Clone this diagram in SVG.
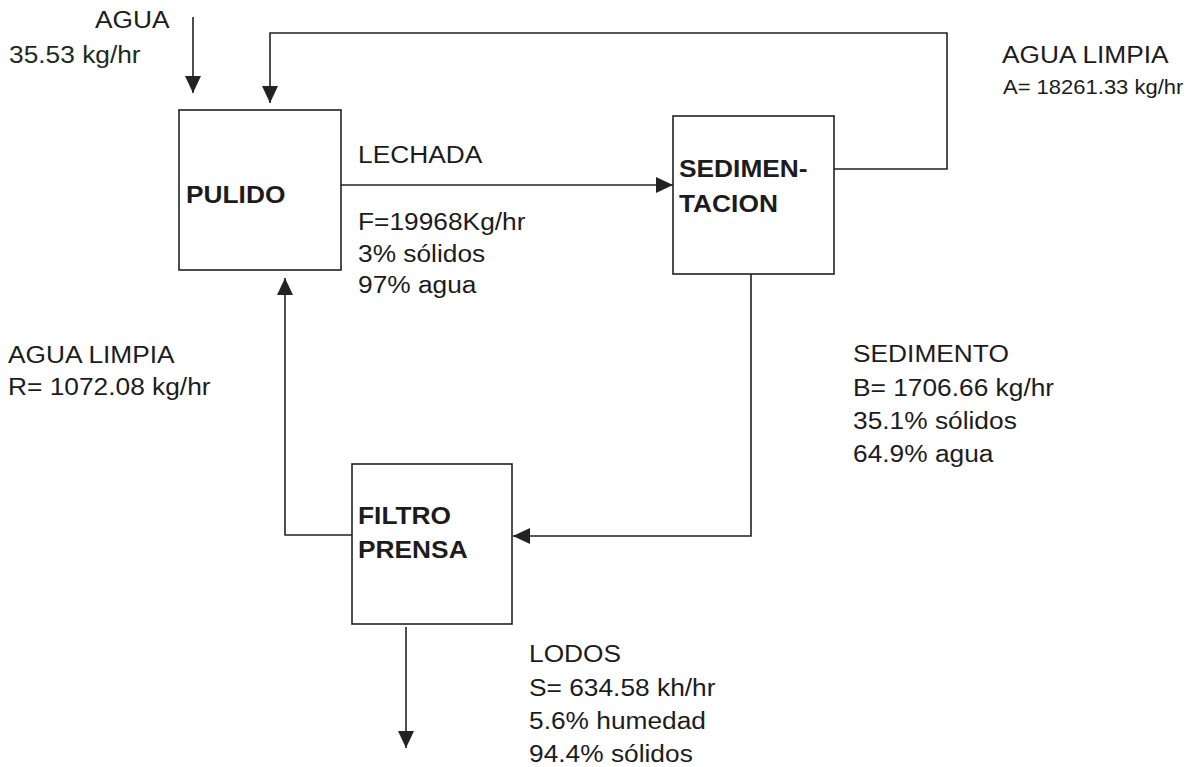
<svg xmlns="http://www.w3.org/2000/svg" width="1190" height="767" viewBox="0 0 1190 767">
<style>
  .t{font-family:"Liberation Sans",Arial,sans-serif;font-size:23.5px;fill:#1c1c1c}
  .s{font-family:"Liberation Sans",Arial,sans-serif;font-size:20px;fill:#1c1c1c}
  .b{font-family:"Liberation Sans",Arial,sans-serif;font-size:23.5px;font-weight:bold;fill:#1c1c1c}
  .box{fill:none;stroke:#222;stroke-width:1.6}
  .ln{fill:none;stroke:#222;stroke-width:1.6}
</style>
<defs>
  <marker id="ah" markerUnits="userSpaceOnUse" viewBox="0 0 17 16" refX="17" refY="8" markerWidth="17" markerHeight="16" orient="auto">
    <path d="M0,0 L17,8 L0,16 z" fill="#222"/>
  </marker>
</defs>
<rect width="1190" height="767" fill="#fff"/>

<g id="pulido">
  <rect class="box" x="179" y="110" width="162" height="160"/>
  <text class="b" transform="translate(186,203) scale(1.12,1)">PULIDO</text>
</g>
<g id="sedimentacion">
  <rect class="box" x="673" y="116" width="161" height="158"/>
  <text class="b" transform="translate(679,177) scale(1.12,1)">SEDIMEN-</text>
  <text class="b" transform="translate(679,212) scale(1.12,1)">TACION</text>
</g>
<g id="filtro">
  <rect class="box" x="352" y="464" width="160" height="160"/>
  <text class="b" transform="translate(358,524) scale(1.12,1)">FILTRO</text>
  <text class="b" transform="translate(358,558) scale(1.12,1)">PRENSA</text>
</g>

<g id="connectors">
  <path class="ln" d="M193,17 L193,93" marker-end="url(#ah)"/>
  <path class="ln" d="M834,169 L947,169 L947,33 L270,33 L270,103" marker-end="url(#ah)"/>
  <path class="ln" d="M341,185 L673,185" marker-end="url(#ah)"/>
  <path class="ln" d="M751,274 L751,536 L513,536" marker-end="url(#ah)"/>
  <path class="ln" d="M352,535 L285,535 L285,278" marker-end="url(#ah)"/>
  <path class="ln" d="M406,627 L406,748" marker-end="url(#ah)"/>
</g>

<g id="labels">
  <text class="t" transform="translate(95,28) scale(1.12,1)">AGUA</text>
  <text class="t" transform="translate(9,63) scale(1.12,1)" style="fill:#1e2a1e">35.53 kg/hr</text>

  <text class="t" transform="translate(1002,63) scale(1.12,1)">AGUA LIMPIA</text>
  <text class="s" transform="translate(1003,94) scale(1.1,1)">A= 18261.33 kg/hr</text>

  <text class="t" transform="translate(358,163) scale(1.12,1)">LECHADA</text>
  <text class="t" transform="translate(358,230) scale(1.12,1)">F=19968Kg/hr</text>
  <text class="t" transform="translate(358,262) scale(1.12,1)">3% sólidos</text>
  <text class="t" transform="translate(358,293) scale(1.12,1)">97% agua</text>

  <text class="t" transform="translate(8,363) scale(1.12,1)">AGUA LIMPIA</text>
  <text class="t" transform="translate(8,395) scale(1.12,1)">R= 1072.08 kg/hr</text>

  <text class="t" transform="translate(853,362) scale(1.12,1)">SEDIMENTO</text>
  <text class="t" transform="translate(853,396) scale(1.12,1)">B= 1706.66 kg/hr</text>
  <text class="t" transform="translate(853,429) scale(1.12,1)">35.1% sólidos</text>
  <text class="t" transform="translate(853,462) scale(1.12,1)">64.9% agua</text>

  <text class="t" transform="translate(529,662) scale(1.12,1)">LODOS</text>
  <text class="t" transform="translate(529,696) scale(1.12,1)">S= 634.58 kh/hr</text>
  <text class="t" transform="translate(529,729) scale(1.12,1)">5.6% humedad</text>
  <text class="t" transform="translate(529,762) scale(1.12,1)">94.4% sólidos</text>
</g>
</svg>
